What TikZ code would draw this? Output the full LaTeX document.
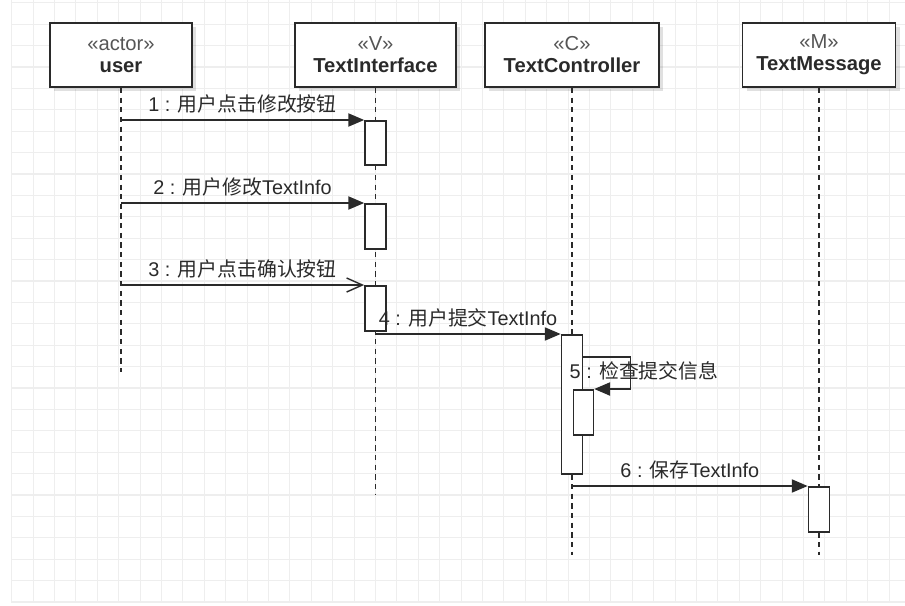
\documentclass[tikz,border=0pt]{standalone}
\usepackage{fontspec}
\setmainfont{Liberation Sans}
\newfontfamily\cjk{Noto Sans CJK SC}
\usetikzlibrary{arrows.meta, shadows}

\definecolor{ink}{HTML}{2A2A2A}
\definecolor{gridgray}{HTML}{EEEEEE}

\begin{document}
\begin{tikzpicture}[
        x=0.02cm, y=-0.02cm,
        line width=0.8pt, color=ink,
        gridline/.style={draw=gridgray, line width=0.6pt},
        head/.style={draw=ink, fill=white, line width=1pt, minimum height=1.28cm,
            align=center, text=ink, font=\fontsize{11.5}{12.5}\selectfont,
            drop shadow={shadow xshift=2.5pt, shadow yshift=-2.5pt, opacity=0.12, fill=black}},
        act/.style={draw=ink, fill=white, line width=1pt, minimum width=0.42cm, anchor=north, inner sep=0pt},
        life/.style={draw=ink, line width=0.9pt, dash pattern=on 3pt off 2.5pt},
        msg/.style={draw=ink, -{Triangle[length=9pt, width=7.5pt]}},
        open msg/.style={draw=ink, -{Straight Barb[length=9pt, width=8pt]}},
        lbl/.style={text=ink, font=\fontsize{11.3}{12}\selectfont}
    ]

        \useasboundingbox (0,0) rectangle (905,605);
        \fill[white] (0,0) rectangle (905,605);
        \foreach \i in {0,...,41}
            \draw[gridline] (11.7+21.4*\i,0) -- (11.7+21.4*\i,603);
        \foreach \j in {0,...,28}
            \draw[gridline] (11.7,2.8+21.4*\j) -- (905,2.8+21.4*\j);

        \node[head, minimum width=2.84cm] (user) at (121,55) {\color{ink!80}«actor»\\\textbf{user}};
        \node[head, minimum width=3.22cm] (ti) at (375.5,55) {\color{ink!80}«V»\\\textbf{TextInterface}};
        \node[head, minimum width=3.48cm] (tc) at (572,55) {\color{ink!80}«C»\\\textbf{TextController}};
        \node[head, minimum width=3.06cm] (tm) at (819,55) {\color{ink!80}«M»\\\textbf{TextMessage}};

        \coordinate (user-end) at (121,372);
        \coordinate (ti-end) at (375.5,495);
        \coordinate (tc-end) at (572,555);
        \coordinate (tm-end) at (819,555);

        \draw[life] (user.south) -- (user-end);
        \draw[life] (ti.south) -- (ti-end);
        \draw[life] (tc.south) -- (tc-end);
        \draw[life] (tm.south) -- (tm-end);

        \node[act, minimum height=0.88cm] (ti1) at (ti.south |- 0,120) {};
        \node[act, minimum height=0.9cm] (ti2) at (ti.south |- 0,203) {};
        \node[act, minimum height=0.9cm] (ti3) at (ti.south |- 0,285) {};
        \node[act, minimum height=2.78cm] (tc1) at (tc.south |- 0,334) {};
        \node[act, minimum width=0.4cm, minimum height=0.9cm] (tc2) at (tc1.east |- 0,389) {};
        \node[act, minimum height=0.9cm] (tm1) at (tm.south |- 0,486) {};

        \draw[msg] (user |- ti1.north west) -- node[lbl, above] (m1) {1 : {\cjk 用户点击修改按钮}} (ti1.north west);
        \draw[msg] (user |- ti2.north west) -- node[lbl, above] (m2) {2 : {\cjk 用户修改}TextInfo} (ti2.north west);
        \draw[open msg] (user |- ti3.north west) -- node[lbl, above] (m3) {3 : {\cjk 用户点击确认按钮}} (ti3.north west);
        \draw[msg] (ti |- tc1.north west) -- node[lbl, above] (m4) {4 : {\cjk 用户提交}TextInfo} (tc1.north west);
        \coordinate (self-out) at (tc1.east |- 0,357);
        \draw[msg] (self-out) -- ++(47,0) |- (tc2.north east);
        \node[lbl] (m5) at (644,371) {5 : {\cjk 检查提交信息}};
        \draw[msg] (tc |- tm1.north west) -- node[lbl, above] (m6) {6 : {\cjk 保存}TextInfo} (tm1.north west);
    \end{tikzpicture}
\end{document}
